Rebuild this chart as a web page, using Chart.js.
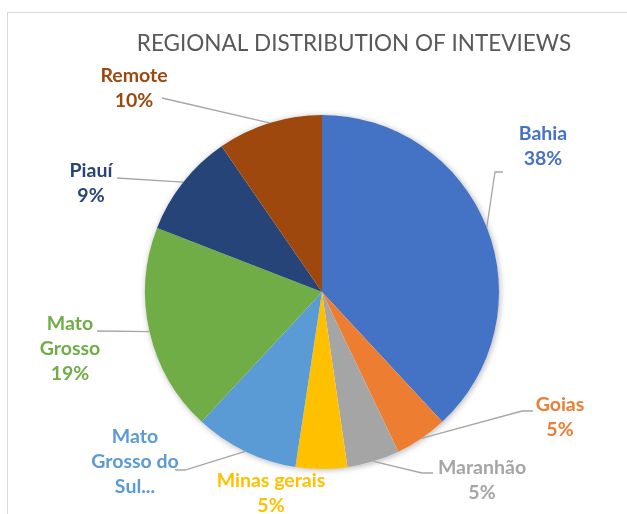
<!DOCTYPE html>
<html>
<head>
<meta charset="utf-8">
<script src="https://cdn.jsdelivr.net/npm/chart.js@4"></script>
<style>
  html, body { margin: 0; padding: 0; background: #fff; overflow: hidden; }
  #wrap { position: relative; width: 627px; height: 514px; }
  #frame { position: absolute; left: 7px; top: 12px; width: 700px; height: 600px;
           border: 1.5px solid #d9d9d9; box-sizing: border-box; }
  #regionChart { position: absolute; left: 0; top: 0; }
</style>
</head>
<body>
<div id="wrap">
  <div id="frame"></div>
  <canvas id="regionChart" width="627" height="514"></canvas>
</div>
<script>
// regions, clockwise from 12 o'clock
var regions = ['Bahia', 'Goias', 'Maranhão', 'Minas gerais', 'Mato Grosso do Sul', 'Mato Grosso', 'Piauí', 'Remote'];
// share of interviews
var shares = [38.1, 4.8, 4.8, 4.7, 9.5, 19.0, 9.5, 9.6];
// percentage text as printed on the labels
var pctText = ['38%', '5%', '5%', '5%', '', '19%', '9%', '10%'];
var sliceColors = ['#4472C4', '#ED7D31', '#A5A5A5', '#FFC000', '#5B9BD5', '#70AD47', '#264478', '#9E480E'];

var titleText = 'REGIONAL DISTRIBUTION OF INTEVIEWS';

// where each data label sits, and the bend of its leader line
var labelLayout = [
	{ lines: ['Bahia'], x: 543, y: 134, leader: [[495, 172], [503, 172]] },
	{ lines: ['Goias'], x: 560, y: 405, leader: [[522, 411], [533, 411]] },
	{ lines: ['Maranhão'], x: 482, y: 468, leader: [[422, 473], [433, 473]] },
	{ lines: ['Minas gerais'], x: 271, y: 481, leader: null },
	{ lines: ['Mato', 'Grosso do', 'Sul...'], x: 135, y: 437, leader: [[185, 470], [175, 470]] },
	{ lines: ['Mato', 'Grosso'], x: 70, y: 324, leader: [[97, 331]] },
	{ lines: ['Piauí'], x: 91, y: 171, leader: [[117, 178]] },
	{ lines: ['Remote'], x: 134, y: 76, leader: [[162, 98]] }
];

var labelFont = 'bold 19.5px Lato, "Open Sans", sans-serif';
var lineGap = 25;

// soft shadow under the pie, like the office chart
var pieShadow = {
	id: 'pieShadow',
	beforeDatasetsDraw: function(chart) {
		var arc = chart.getDatasetMeta(0).data[0];
		if (!arc) return;
		var ctx = chart.ctx;
		ctx.save();
		ctx.shadowColor = 'rgba(0,0,0,0.3)';
		ctx.shadowBlur = 6;
		ctx.shadowOffsetX = 1;
		ctx.shadowOffsetY = 1;
		ctx.fillStyle = '#fff';
		ctx.beginPath();
		ctx.arc(arc.x, arc.y, arc.outerRadius, 0, Math.PI * 2);
		ctx.fill();
		ctx.restore();
	}
};

// title, data labels and leader lines
var outsideLabels = {
	id: 'outsideLabels',
	afterDraw: function(chart) {
		var ctx = chart.ctx;
		var arcs = chart.getDatasetMeta(0).data;

		ctx.save();
		ctx.fillStyle = '#595959';
		ctx.font = '22.5px Lato, "Open Sans", sans-serif';
		ctx.textAlign = 'center';
		ctx.textBaseline = 'middle';
		ctx.fillText(titleText, 354, 44);

		for (var i = 0; i < arcs.length; i++) {
			var a = arcs[i];
			var lay = labelLayout[i];
			var mid = (a.startAngle + a.endAngle) / 2;
			var ex = a.x + Math.cos(mid) * a.outerRadius;
			var ey = a.y + Math.sin(mid) * a.outerRadius;

			if (lay.leader) {
				ctx.strokeStyle = '#A6A6A6';
				ctx.lineWidth = 1.3;
				ctx.beginPath();
				ctx.moveTo(ex, ey);
				for (var k = 0; k < lay.leader.length; k++) {
					ctx.lineTo(lay.leader[k][0], lay.leader[k][1]);
				}
				ctx.stroke();
			}

			var lines = lay.lines.slice();
			if (pctText[i]) lines.push(pctText[i]);
			ctx.fillStyle = sliceColors[i];
			ctx.font = labelFont;
			for (var j = 0; j < lines.length; j++) {
				ctx.fillText(lines[j], lay.x, lay.y + j * lineGap);
			}
		}
		ctx.restore();
	}
};

new Chart(document.getElementById('regionChart'), {
	type: 'pie',
	data: {
		labels: regions,
		datasets: [{
			data: shares,
			backgroundColor: sliceColors,
			borderWidth: 0
		}]
	},
	options: {
		responsive: false,
		animation: false,
		layout: {
			padding: { top: 115, bottom: 45, left: 145, right: 128 }
		},
		plugins: {
			legend: { display: false },
			title: { display: false },
			tooltip: { enabled: false }
		}
	},
	plugins: [pieShadow, outsideLabels]
});
</script>
</body>
</html>
